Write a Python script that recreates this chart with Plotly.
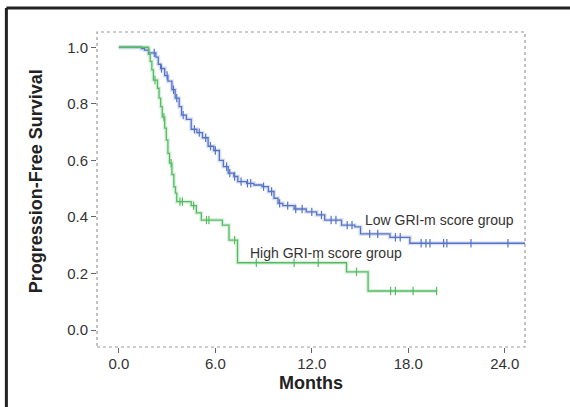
import numpy as np
import plotly.graph_objects as go

# ---- data ----
low_times = [0, 1.4, 1.6, 1.85, 2.3, 2.45, 2.6, 2.85, 3.05, 3.3, 3.5, 3.75, 3.9, 4.2, 4.5, 4.85,
             5.2, 5.55, 5.9, 6.25, 6.5, 6.8, 7.15, 7.4, 7.95, 8.4, 8.9, 9.3, 9.65, 9.9, 10.2,
             10.9, 11.65, 12.3, 12.8, 13.85, 14.68, 15.03, 16.86, 18.1, 25.6]
low_surv = [1.0, 0.995, 0.99, 0.98, 0.965, 0.94, 0.925, 0.9, 0.88, 0.85, 0.82, 0.79, 0.76, 0.745,
            0.71, 0.698, 0.68, 0.65, 0.635, 0.6, 0.578, 0.555, 0.543, 0.525, 0.519, 0.513, 0.507,
            0.49, 0.466, 0.448, 0.44, 0.428, 0.418, 0.407, 0.389, 0.371, 0.365, 0.34, 0.328, 0.307, 0.307]
low_censor = [2.2, 2.65, 3.0, 3.4, 3.6, 4.0, 4.7, 5.0, 5.4, 5.7, 6.0, 6.7, 6.9, 7.2, 7.6, 8.0, 8.2,
              9.0, 9.5, 10.0, 10.5, 11.0, 11.4, 12.0, 12.6, 13.2, 13.5, 14.2, 14.5, 15.6, 16.1,
              17.2, 17.5, 18.8, 19.1, 19.35, 20.2, 20.4, 21.9, 24.2]

high_times = [0, 1.85, 1.95, 2.05, 2.15, 2.4, 2.5, 2.6, 2.7, 2.85, 2.95, 3.05, 3.15, 3.3, 3.42,
              3.52, 3.6, 4.5, 4.82, 5.13, 6.44, 6.85, 7.38, 14.16, 15.5, 19.8]
high_surv = [1.0, 0.975, 0.95, 0.92, 0.884, 0.855, 0.82, 0.79, 0.753, 0.714, 0.672, 0.625, 0.59,
             0.55, 0.506, 0.484, 0.454, 0.44, 0.414, 0.389, 0.371, 0.318, 0.238, 0.206, 0.138, 0.138]
high_censor = [2.25, 2.8, 3.25, 3.8, 3.95, 4.65, 5.45, 5.6, 7.2, 8.55, 10.9, 12.4, 14.78,
               16.9, 17.2, 18.3, 19.76]

x_ticks = [0, 6, 12, 18, 24]
x_tick_labels = ["0.0", "6.0", "12.0", "18.0", "24.0"]
y_ticks = [0, 0.2, 0.4, 0.6, 0.8, 1.0]
y_tick_labels = ["0.0", "0.2", "0.4", "0.6", "0.8", "1.0"]

BLUE = "#5573c6"
GREEN = "#55bb62"


def step_at(times, surv, t):
    idx = np.searchsorted(np.array(times), np.array(t), side="right") - 1
    return list(np.array(surv)[idx])


fig = go.Figure()
for times, surv, cens, col in [(low_times, low_surv, low_censor, BLUE),
                               (high_times, high_surv, high_censor, GREEN)]:
    fig.add_trace(go.Scatter(x=times, y=surv, mode="lines", line=dict(color=col, width=4, shape="hv"),
                             opacity=0.2, hoverinfo="skip", showlegend=False))
    fig.add_trace(go.Scatter(x=times, y=surv, mode="lines", line=dict(color=col, width=1.3, shape="hv"),
                             showlegend=False))
    fig.add_trace(go.Scatter(x=cens, y=step_at(times, surv, cens), mode="markers",
                             marker=dict(symbol="line-ns", size=6, line=dict(color=col, width=1.2)),
                             showlegend=False))

fig.add_annotation(x=15.2, y=0.389, text="Low GRI-m score group", showarrow=False,
                   xanchor="left", yanchor="middle", font=dict(size=14, color="#333333"))
fig.add_annotation(x=8.03, y=0.273, text="High GRI-m score group", showarrow=False,
                   xanchor="left", yanchor="middle", font=dict(size=14, color="#333333"))
# y-axis title placed as rotated annotation (slightly above plot centre, as in the reference)
fig.add_annotation(xref="paper", yref="paper", x=-0.142, y=0.527, text="<b>Progression-Free Survival</b>",
                   textangle=-90, showarrow=False, xanchor="center", yanchor="middle",
                   font=dict(size=18, color="#222222"))

# plot frame (dotted) and outer black border
fig.add_shape(type="rect", xref="paper", yref="paper", x0=0, y0=0, x1=1, y1=1,
              line=dict(color="#9a9a9a", width=1.2, dash="dot"), layer="above")
fig.add_shape(type="line", xref="paper", yref="paper", x0=-0.2117, x1=1.2, y0=1.076, y1=1.076,
              line=dict(color="#222222", width=3))
fig.add_shape(type="line", xref="paper", yref="paper", x0=-0.2117, x1=-0.2117, y0=1.076, y1=-0.2,
              line=dict(color="#222222", width=3))

fig.update_layout(
    width=570, height=407,
    margin=dict(l=97, r=45, t=32, b=60),
    paper_bgcolor="white", plot_bgcolor="white",
    font=dict(family="Liberation Sans, Arial, sans-serif", color="#333333"),
    xaxis=dict(range=[-1.36, 25.26], tickvals=x_ticks, ticktext=x_tick_labels,
               ticks="outside", ticklen=5, tickcolor="#666666", showgrid=False, zeroline=False,
               showline=False, tickfont=dict(size=15), ticklabelstandoff=-2,
               title=dict(text="<b>Months</b>", font=dict(size=18, color="#222222"), standoff=5)),
    yaxis=dict(range=[-0.06, 1.054], tickvals=y_ticks, ticktext=y_tick_labels,
               ticks="outside", ticklen=5, tickcolor="#666666", showgrid=False, zeroline=False,
               showline=False, tickfont=dict(size=15)),
)

fig.write_html("out.html")
